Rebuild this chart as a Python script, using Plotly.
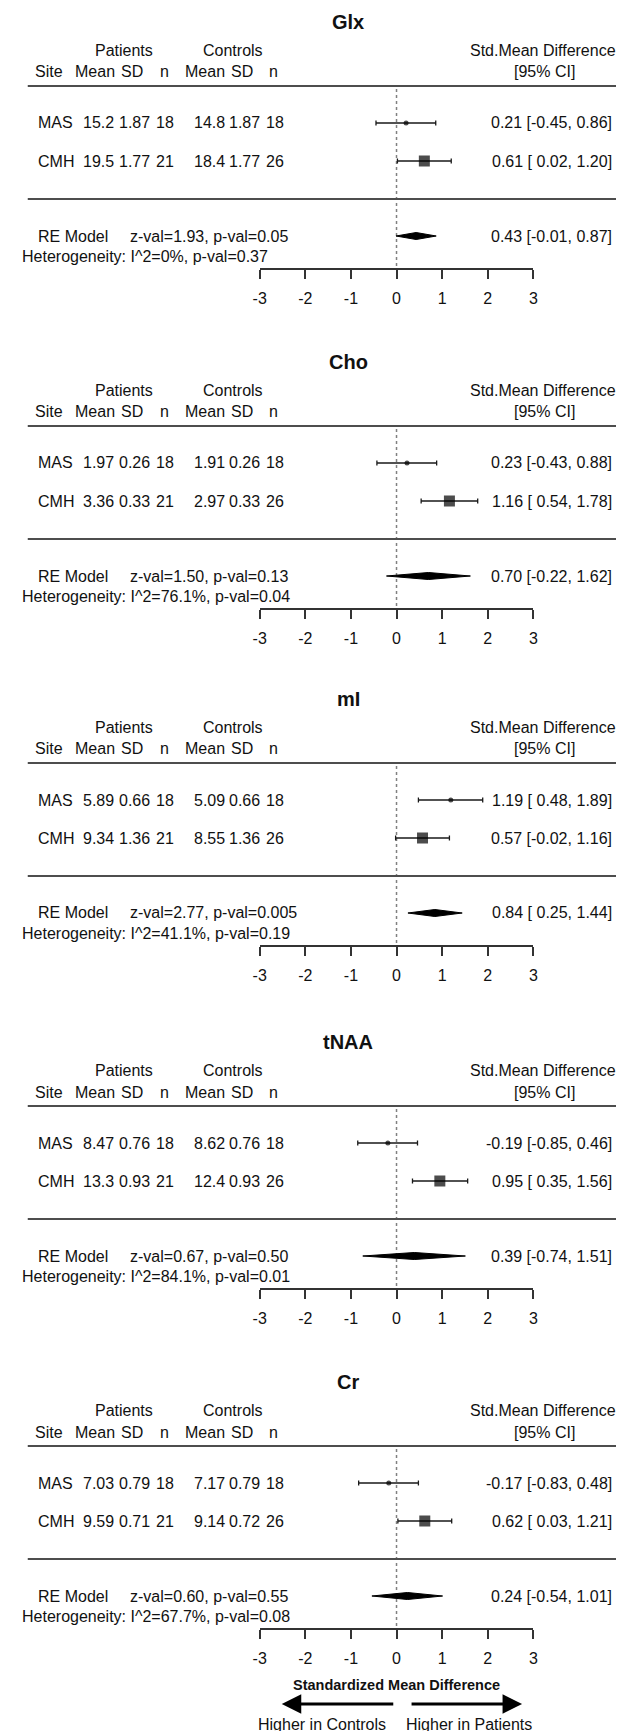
import plotly.graph_objects as go

# ---- data ----
metabolites = ["Glx", "Cho", "mI", "tNAA", "Cr"]
sites = ["MAS", "CMH"]
pat_n = [18, 21]
ctl_n = [18, 26]

pat_mean = [[15.2, 19.5], [1.97, 3.36], [5.89, 9.34], [8.47, 13.3], [7.03, 9.59]]
pat_sd = [[1.87, 1.77], [0.26, 0.33], [0.66, 1.36], [0.76, 0.93], [0.79, 0.71]]
ctl_mean = [[14.8, 18.4], [1.91, 2.97], [5.09, 8.55], [8.62, 12.4], [7.17, 9.14]]
ctl_sd = [[1.87, 1.77], [0.26, 0.33], [0.66, 1.36], [0.76, 0.93], [0.79, 0.72]]

smd = [[0.21, 0.61], [0.23, 1.16], [1.19, 0.57], [-0.19, 0.95], [-0.17, 0.62]]
smd_lo = [[-0.45, 0.02], [-0.43, 0.54], [0.48, -0.02], [-0.85, 0.35], [-0.83, 0.03]]
smd_hi = [[0.86, 1.20], [0.88, 1.78], [1.89, 1.16], [0.46, 1.56], [0.48, 1.21]]

re_est = [0.43, 0.70, 0.84, 0.39, 0.24]
re_lo = [-0.01, -0.22, 0.25, -0.74, -0.54]
re_hi = [0.87, 1.62, 1.44, 1.51, 1.01]
z_val = ["1.93", "1.50", "2.77", "0.67", "0.60"]
p_val = ["0.05", "0.13", "0.005", "0.50", "0.55"]
i2 = ["0%", "76.1%", "41.1%", "84.1%", "67.7%"]
het_p = ["0.37", "0.04", "0.19", "0.01", "0.08"]

ticks = [-3, -2, -1, 0, 1, 2, 3]
marker_size = [5, 11]
marker_symbol = ["circle", "square"]

# ---- layout helpers ----
W, H = 624, 1731
FONT = "Liberation Sans, Arial, sans-serif"
INK = "#111111"
panel_top = [78, 418, 755, 1098, 1438]   # pixel y of the header rule in each panel


def py(p):
    return 1 - p / H


def px(p):
    return p / W


def fmt(v):
    return f"{v:.1f}" if v >= 10 else f"{v:.2f}"


def ci(e, l, h):
    return f"{e:.2f} [{l:5.2f}, {h:.2f}]"


fig = go.Figure()
annotations = []
shapes = []
layout = {}


def txt(s, x, y, anchor="center", size=16, bold=False):
    if bold:
        s = "<b>" + s + "</b>"
    annotations.append(dict(text=s, x=px(x), y=py(y), xref="paper", yref="paper",
                            xanchor=anchor, yanchor="middle", showarrow=False,
                            borderpad=0,
                            font=dict(size=size, family=FONT, color=INK)))


for i, name in enumerate(metabolites):
    T = panel_top[i]
    k = "" if i == 0 else str(i + 1)
    xr, yr = "x" + k, "y" + k

    layout["xaxis" + k] = dict(domain=[px(249.5), px(528.5)], range=[-3, 3], anchor=yr,
                               tickvals=ticks, ticktext=[str(t) for t in ticks],
                               ticks="outside", ticklen=9, tickwidth=1.5, tickcolor="#333",
                               showline=True, linecolor="#333", linewidth=1.5,
                               showgrid=False, zeroline=False, ticklabelstandoff=6,
                               tickfont=dict(size=16, family=FONT, color=INK))
    layout["yaxis" + k] = dict(domain=[py(T + 182), py(T - 70)], range=[182, -70],
                               anchor=xr, visible=False)

    # reference line at zero
    fig.add_trace(go.Scatter(x=[0, 0], y=[3, 182], mode="lines", xaxis=xr, yaxis=yr,
                             line=dict(color="#808080", width=1.5, dash="dot"),
                             hoverinfo="skip"))
    # site estimates
    fig.add_trace(go.Scatter(
        x=smd[i], y=[37, 75], mode="markers", xaxis=xr, yaxis=yr,
        marker=dict(symbol=marker_symbol, size=marker_size, color="black",
                    line=dict(width=0)),
        error_x=dict(type="data", symmetric=False,
                     array=[h - e for h, e in zip(smd_hi[i], smd[i])],
                     arrayminus=[e - l for e, l in zip(smd[i], smd_lo[i])],
                     thickness=1.3, width=2.5, color="#1a1a1a")))
    # pooled diamond
    fig.add_trace(go.Scatter(
        x=[re_lo[i], re_est[i], re_hi[i], re_est[i], re_lo[i]],
        y=[150, 146.5, 150, 153.5, 150], mode="lines", fill="toself",
        fillcolor="black", line=dict(color="black", width=1), xaxis=xr, yaxis=yr))

    # rules
    for yy in (T, T + 113):
        shapes.append(dict(type="line", xref="paper", yref="paper", x0=px(13), x1=px(619),
                           y0=py(yy), y1=py(yy), line=dict(color="#4d4d4d", width=2)))

    # headers
    txt(name, 340, T - 64, size=20, bold=True)
    txt("Patients", 111, T - 36)
    txt("Controls", 222, T - 36)
    txt("Std.Mean Difference", 538, T - 36)
    txt("Site", 35, T - 14)
    for lab, cx in zip(["Mean", "SD", "n", "Mean", "SD", "n"], [82, 119, 152, 194, 231, 264]):
        txt(lab, cx, T - 14)
    txt("[95% CI]", 540, T - 14)

    # rows
    for j, s in enumerate(sites):
        yy = T + 37 + 38 * j
        txt(s, 22, yy, anchor="left")
        vals = [fmt(pat_mean[i][j]), fmt(pat_sd[i][j]), str(pat_n[j]),
                fmt(ctl_mean[i][j]), fmt(ctl_sd[i][j]), str(ctl_n[j])]
        for v, cx in zip(vals, [85, 122, 153, 198, 234, 265]):
            txt(v, cx, yy)
        txt(ci(smd[i][j], smd_lo[i][j], smd_hi[i][j]), 610, yy, anchor="right")

    txt("RE Model", 22, T + 150, anchor="left")
    txt(f"z-val={z_val[i]}, p-val={p_val[i]}", 116, T + 150, anchor="left")
    txt(ci(re_est[i], re_lo[i], re_hi[i]), 610, T + 150, anchor="right")
    txt(f"Heterogeneity: I^2={i2[i]}, p-val={het_p[i]}", 6, T + 170, anchor="left")

# bottom axis label and direction arrows
txt("Standardized Mean Difference", 389, 1677, size=14.5, bold=True)
for head, off in ((272, 113), (517, -112)):
    annotations.append(dict(text="", x=px(head), y=py(1696), xref="paper", yref="paper",
                            ax=off, ay=0, axref="pixel", ayref="pixel", showarrow=True,
                            arrowhead=2, arrowsize=1.3, arrowwidth=3, arrowcolor="black"))
txt("Higher in Controls", 313, 1716)
txt("Higher in Patients", 463, 1716)

fig.update_layout(width=W, height=H, margin=dict(l=0, r=0, t=0, b=0),
                  paper_bgcolor="white", plot_bgcolor="white", showlegend=False,
                  annotations=annotations, shapes=shapes, **layout)

fig.write_html("out.html")
